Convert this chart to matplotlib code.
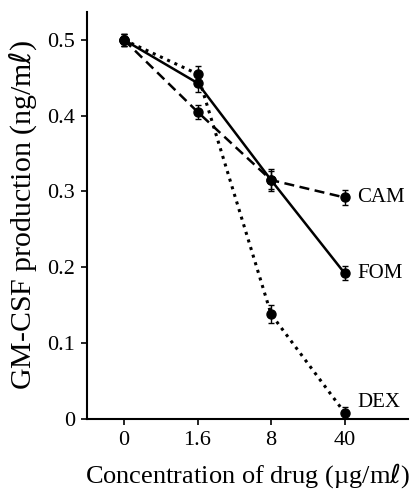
import numpy as np
import matplotlib.pyplot as plt

plt.rcParams['font.family'] = ['Liberation Serif', 'DejaVu Serif']

# Data
conc_labels = ['0', '1.6', '8', '40']
cam = [0.500, 0.405, 0.315, 0.292]
cam_err = [0.008, 0.009, 0.012, 0.010]
fom = [0.500, 0.443, 0.315, 0.192]
fom_err = [0.008, 0.012, 0.015, 0.009]
dex = [0.500, 0.455, 0.138, 0.008]
dex_err = [0.008, 0.010, 0.012, 0.008]

x = np.arange(len(conc_labels))

fig = plt.figure(figsize=(4.15, 4.91), dpi=100)
ax = fig.add_axes([0.21, 0.147, 0.773, 0.829])

style = dict(color='black', marker='o', markersize=6.5, capsize=2.5,
             elinewidth=1.0, capthick=1.0)
ax.errorbar(x, cam, yerr=cam_err, linestyle=(0, (4, 2.2)), lw=1.8, **style)
ax.errorbar(x, fom, yerr=fom_err, linestyle='-', lw=1.8, **style)
ax.errorbar(x, dex, yerr=dex_err, linestyle=(0, (1, 1.6)), lw=2.2, **style)

ax.text(x[-1] + 0.17, cam[-1], 'CAM', va='center', ha='left', fontsize=15)
ax.text(x[-1] + 0.17, fom[-1], 'FOM', va='center', ha='left', fontsize=15)
ax.text(x[-1] + 0.17, dex[-1] + 0.014, 'DEX', va='center', ha='left', fontsize=15)

ax.set_xlim(-0.5, 3.86)
ax.set_ylim(0, 0.537)
ax.set_xticks(x)
ax.set_xticklabels(conc_labels)
ax.set_yticks([0, 0.1, 0.2, 0.3, 0.4, 0.5])
ax.set_yticklabels(['0', '0.1', '0.2', '0.3', '0.4', '0.5'])
ax.tick_params(labelsize=16, direction='out', width=1.2, length=4.5, pad=4)

for s in ['top', 'right']:
    ax.spines[s].set_visible(False)
for s in ['left', 'bottom']:
    ax.spines[s].set_linewidth(1.5)

ax.set_ylabel('GM-CSF production (ng/m$\\ell$)', fontsize=21.5, labelpad=6)
ax.set_xlabel('Concentration of drug (\u00b5g/m$\\ell$)', fontsize=19, labelpad=8)

fig.savefig('out.png', dpi=100)
